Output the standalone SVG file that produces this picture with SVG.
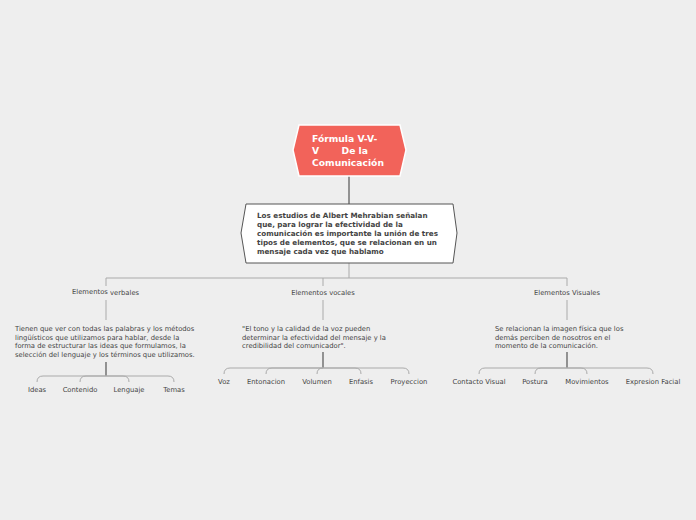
<svg xmlns="http://www.w3.org/2000/svg" width="696" height="520" viewBox="0 0 696 520">
<style>
text{font-family:"DejaVu Sans",Verdana,sans-serif;font-size:6.8px;fill:#444}
.b{font-weight:bold;font-size:7.2px}
.c{text-anchor:middle}
.g{fill:none;stroke:#aaa;stroke-width:1}
.d{fill:none;stroke:#555;stroke-width:1.2}
</style>
<rect width="696" height="520" fill="#eeeeee"/>
<g id="connectors">
<path class="d" d="M349,176V204"/>
<path class="g" d="M349,263V278M106,286V278H567V286M323,278V286"/>
<path class="g" d="M106,300V320M323,300V320M567,300V320"/>
<path class="d" d="M106,362V376M323,352V368M567,352V368"/>
<path class="g" d="M106,376H43Q37,376 37,382M106,376H86Q80,376 80,382M106,376H123Q129,376 129,382M106,376H168Q174,376 174,382"/>
<path class="g" d="M323,368H230Q224,368 224,374M323,368H272Q266,368 266,374M323,368Q317,368 317,374M323,368H403Q409,368 409,374M323,368H355Q361,368 361,374"/>
<path class="g" d="M567,368H485Q479,368 479,374M567,368H541Q535,368 535,374M567,368H581Q587,368 587,374M567,368H647Q653,368 653,374"/>
</g>
<g id="root">
<polygon points="299,125 400,125 406,150 400,176 299,176 293,150" fill="#F2635A" stroke="#fff" stroke-width="1.5"/>
<text x="312" y="142" style="fill:#fff;font-size:9.2px;font-weight:bold">Fórmula V-V-</text>
<text x="312" y="154" style="fill:#fff;font-size:9.2px;font-weight:bold" xml:space="preserve">V       De la</text>
<text x="312" y="166" style="fill:#fff;font-size:9.2px;font-weight:bold">Comunicación</text>
</g>
<g id="center">
<polygon points="246,204 453,204 457,233 453,263 246,263 241,233" fill="#fff" stroke="#555" stroke-width="1"/>
<text class="b" x="257" y="218">Los estudios de Albert Mehrabian señalan</text>
<text class="b" x="257" y="227">que, para lograr la efectividad de la</text>
<text class="b" x="257" y="236">comunicación es importante la unión de tres</text>
<text class="b" x="257" y="245">tipos de elementos, que se relacionan en un</text>
<text class="b" x="257" y="254">mensaje cada vez que hablamo</text>
</g>
<g id="verbales">
<text x="72" y="294">Elementos <tspan dy="1">verbales</tspan></text>
<text x="15" y="331">Tienen que ver con todas las palabras y los métodos</text>
<text x="15" y="339.5">lingüísticos que utilizamos para hablar, desde la</text>
<text x="15" y="348">forma de estructurar las ideas que formulamos, la</text>
<text x="15" y="356.5">selección del lenguaje y los términos que utilizamos.</text>
<text class="c" x="37" y="392">Ideas</text>
<text class="c" x="80" y="392">Contenido</text>
<text class="c" x="129" y="392">Lenguaje</text>
<text class="c" x="174" y="392">Temas</text>
</g>
<g id="vocales">
<text class="c" x="323" y="295">Elementos vocales</text>
<text x="242" y="331">"El tono y la calidad de la voz pueden</text>
<text x="242" y="339.5">determinar la efectividad del mensaje y la</text>
<text x="242" y="348">credibilidad del comunicador".</text>
<text class="c" x="224" y="384">Voz</text>
<text class="c" x="266" y="384">Entonacion</text>
<text class="c" x="317" y="384">Volumen</text>
<text class="c" x="361" y="384">Enfasis</text>
<text class="c" x="409" y="384">Proyeccion</text>
</g>
<g id="visuales">
<text class="c" x="567" y="295">Elementos Visuales</text>
<text x="495" y="331">Se relacionan la imagen física que los</text>
<text x="495" y="339.5">demás perciben de nosotros en el</text>
<text x="495" y="348">momento de la comunicación.</text>
<text class="c" x="479" y="384">Contacto Visual</text>
<text class="c" x="535" y="384">Postura</text>
<text class="c" x="587" y="384">Movimientos</text>
<text class="c" x="653" y="384">Expresion Facial</text>
</g>
</svg>
